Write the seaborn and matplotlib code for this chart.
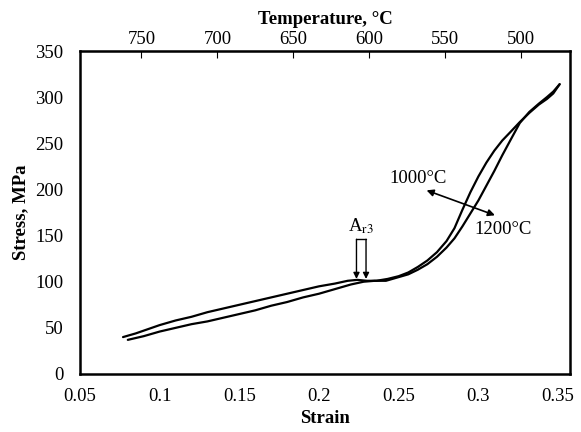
import numpy as np
import pandas as pd
import seaborn as sns
from matplotlib import pyplot as plt
from matplotlib.ticker import FuncFormatter

# curve after reheating at 1000 C (upper branch at low strain, left branch at high strain)
strain_1000 = [0.077, 0.085, 0.09, 0.10, 0.11, 0.12, 0.13, 0.14, 0.15, 0.16, 0.17, 0.18,
               0.19, 0.20, 0.21, 0.218, 0.224, 0.23, 0.236, 0.243, 0.25, 0.256, 0.262,
               0.268, 0.274, 0.28, 0.285, 0.29, 0.295, 0.30, 0.305, 0.31, 0.315, 0.32,
               0.326, 0.332, 0.338, 0.343, 0.347, 0.351]
stress_1000 = [40, 44, 47, 53, 58, 62, 67, 71, 75, 79, 83, 87, 91, 95, 98, 101, 102, 101,
               101, 103, 106, 110, 116, 123, 132, 144, 158, 178, 197, 214, 229, 242, 253,
               262, 273, 283, 292, 298, 304, 314]

# curve after reheating at 1200 C
strain_1200 = [0.080, 0.09, 0.10, 0.11, 0.12, 0.13, 0.14, 0.15, 0.16, 0.17, 0.18, 0.19,
               0.20, 0.21, 0.22, 0.228, 0.235, 0.242, 0.25, 0.256, 0.262, 0.268, 0.274,
               0.28, 0.285, 0.29, 0.295, 0.30, 0.305, 0.31, 0.315, 0.32, 0.326, 0.332,
               0.338, 0.343, 0.347, 0.351]
stress_1200 = [37, 41, 46, 50, 54, 57, 61, 65, 69, 74, 78, 83, 87, 92, 97, 100, 101, 101,
               105, 108, 113, 119, 127, 137, 147, 160, 174, 188, 204, 220, 237, 253, 272,
               284, 293, 300, 306, 314]

x_ticks = [0.05, 0.10, 0.15, 0.20, 0.25, 0.30, 0.35]
y_ticks = [0, 50, 100, 150, 200, 250, 300, 350]
temp_ticks = [750, 700, 650, 600, 550, 500]

# strain -> temperature during continuous cooling
T0, DTDS = 843.0, 1050.0


def to_temp(s):
    return T0 - DTDS * np.asarray(s)


def to_strain(t):
    return (T0 - np.asarray(t)) / DTDS


df = pd.concat([
    pd.DataFrame({"strain": strain_1000, "stress": stress_1000, "curve": "1000°C"}),
    pd.DataFrame({"strain": strain_1200, "stress": stress_1200, "curve": "1200°C"}),
])

sns.set_style("white")
plt.rcParams["font.family"] = ["Liberation Serif", "DejaVu Serif"]
plt.rcParams["mathtext.fontset"] = "stix"
plt.rcParams["text.color"] = "black"
plt.rcParams["axes.labelcolor"] = "black"
plt.rcParams["xtick.color"] = "black"
plt.rcParams["ytick.color"] = "black"
FS = 13.5

fig, ax = plt.subplots(figsize=(5.81, 4.32), dpi=100)
fig.subplots_adjust(left=80 / 581, right=570 / 581, bottom=1 - 374 / 432, top=1 - 51 / 432)

sns.lineplot(data=df, x="strain", y="stress", hue="curve",
             palette={"1000°C": "black", "1200°C": "black"},
             sort=False, estimator=None, legend=False, linewidth=1.6, ax=ax)

ax.set_xlim(0.05, 0.3575)
ax.set_ylim(0, 350)
ax.set_xticks(x_ticks)
ax.set_yticks(y_ticks)
ax.xaxis.set_major_formatter(FuncFormatter(lambda v, p: f"{v:g}"))
for sp in ax.spines.values():
    sp.set_linewidth(1.8)
    sp.set_color("black")
ax.tick_params(direction="in", length=5, width=0.8, labelsize=FS)
ax.tick_params(axis="x", pad=10)
ax.tick_params(axis="y", pad=12)
ax.set_xlabel("Strain", fontsize=FS, fontweight="bold", labelpad=4)
ax.set_ylabel("Stress, MPa", fontsize=FS, fontweight="bold", labelpad=4)

sec = ax.secondary_xaxis("top", functions=(to_temp, to_strain))
sec.set_xticks(temp_ticks)
sec.tick_params(direction="in", length=5, width=0.8, labelsize=FS, pad=2)
sec.set_xlabel("Temperature, °C", fontsize=FS, fontweight="bold", labelpad=5)

# Ar3 marker
ar_l, ar_r = 0.2235, 0.2295
ax.plot([ar_l, ar_r], [146, 146], color="black", lw=1.0)
for xa in (ar_l, ar_r):
    ax.annotate("", xy=(xa, 103), xytext=(xa, 146),
                arrowprops=dict(arrowstyle="-|>", color="black", lw=1.0,
                                mutation_scale=9, shrinkA=0, shrinkB=0))
ax.text(0.2265, 150, r"A$_{\mathrm{r3}}$", ha="center", va="bottom", fontsize=FS)

# double arrow between the two curves
ax.annotate("", xy=(0.2675, 199), xytext=(0.3104, 172),
            arrowprops=dict(arrowstyle="<|-|>", color="black", lw=1.2,
                            mutation_scale=10, shrinkA=0, shrinkB=0))
ax.text(0.262, 212, "1000°C", ha="center", va="center", fontsize=FS)
ax.text(0.3155, 157, "1200°C", ha="center", va="center", fontsize=FS)

fig.savefig("out.png", dpi=100)
